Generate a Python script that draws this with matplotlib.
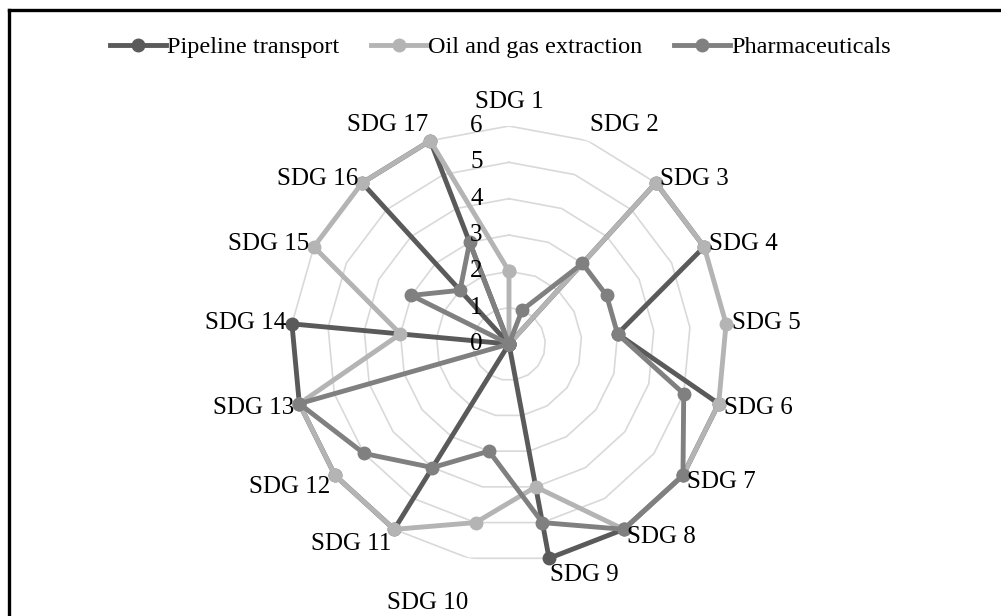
import numpy as np
import matplotlib
matplotlib.use("Agg")
from matplotlib import pyplot as plt
from matplotlib.lines import Line2D

plt.rcParams['font.family'] = ['Liberation Serif', 'DejaVu Serif']

categories = ['SDG 1', 'SDG 2', 'SDG 3', 'SDG 4', 'SDG 5', 'SDG 6', 'SDG 7', 'SDG 8', 'SDG 9',
              'SDG 10', 'SDG 11', 'SDG 12', 'SDG 13', 'SDG 14', 'SDG 15', 'SDG 16', 'SDG 17']
pipeline = [0, 0, 6, 6, 3, 6, 6, 6, 6, 0, 6, 6, 6, 6, 0, 6, 6]
oil_gas = [2, 0, 6, 6, 6, 6, 6, 6, 4, 5, 6, 6, 6, 3, 6, 6, 6]
pharma = [0, 1, 3, 3, 3, 5, 6, 6, 5, 3, 4, 5, 6, 0, 3, 2, 3]
ring_ticks = [0, 1, 2, 3, 4, 5, 6]

series = [('Pipeline transport', pipeline, '#5a5a5a'),
          ('Oil and gas extraction', oil_gas, '#b4b4b4'),
          ('Pharmaceuticals', pharma, '#808080')]

n = len(categories)
theta = np.linspace(0, 2 * np.pi, n, endpoint=False)
theta_c = np.append(theta, theta[0])
fs = 18

fig = plt.figure(figsize=(10.01, 6.16), dpi=100)
cx, cy, R = 509, 344, 218
ax = fig.add_axes([(cx - R) / 1001, (616 - cy - R) / 616, 2 * R / 1001, 2 * R / 616],
                  projection='polar')
ax.set_theta_zero_location('N')
ax.set_theta_direction(-1)
ax.set_ylim(0, 6)
ax.grid(False)
ax.spines['polar'].set_visible(False)
ax.set_xticks([])
ax.set_yticks([])
ax.patch.set_alpha(0)

# polygon rings
for r in ring_ticks[1:]:
    ax.plot(theta_c, [r] * (n + 1), color='#d9d9d9', lw=1.2, zorder=1)

for r in ring_ticks:
    ax.annotate(str(r), (0, r), xytext=(-19, 0), textcoords='offset points',
                ha='right', va='center', fontsize=fs, zorder=5)

for name, vals, col in series:
    v = np.append(vals, vals[0])
    ax.plot(theta_c, v, color=col, lw=3.5, marker='o', ms=9, zorder=3, clip_on=False)

# small nudges so the labels sit like the original
nudge = {'SDG 1': (0, 5), 'SDG 9': (0, 2), 'SDG 10': (0, -18), 'SDG 11': (0, -5), 'SDG 12': (0, -4)}
for t, lab in zip(theta, categories):
    s, c = np.sin(t), np.cos(t)
    if s > 0.1:
        ha = 'left'
    elif s < -0.1:
        ha = 'right'
    else:
        ha = 'center'
    if c > 0.9:
        va = 'bottom'
    elif c < -0.9:
        va = 'top'
    else:
        va = 'center'
    dx, dy = nudge.get(lab, (0, 0))
    ax.annotate(lab, (t, 6), xytext=(4 * s + dx, 4 * c - 2 * (c < 0) + dy),
                textcoords='offset points', ha=ha, va=va, fontsize=fs, annotation_clip=False)

handles = [Line2D([0], [0], color=col, lw=3.5, marker='o', ms=9) for _, _, col in series]
fig.legend(handles, [s[0] for s in series], loc='center', bbox_to_anchor=(0.5, 1 - 47 / 616),
           ncol=3, frameon=False, fontsize=17.5, handlelength=2.3, handletextpad=0.05,
           columnspacing=1.3)

# frame (only top and left edges visible in the crop)
fig.add_artist(Line2D([8.5 / 1001, 1], [1 - 9.5 / 616, 1 - 9.5 / 616], color='black', lw=2.4,
                      transform=fig.transFigure))
fig.add_artist(Line2D([8.5 / 1001, 8.5 / 1001], [0, 1 - 9.5 / 616], color='black', lw=2.4,
                      transform=fig.transFigure))

fig.savefig('out.png', dpi=100)
